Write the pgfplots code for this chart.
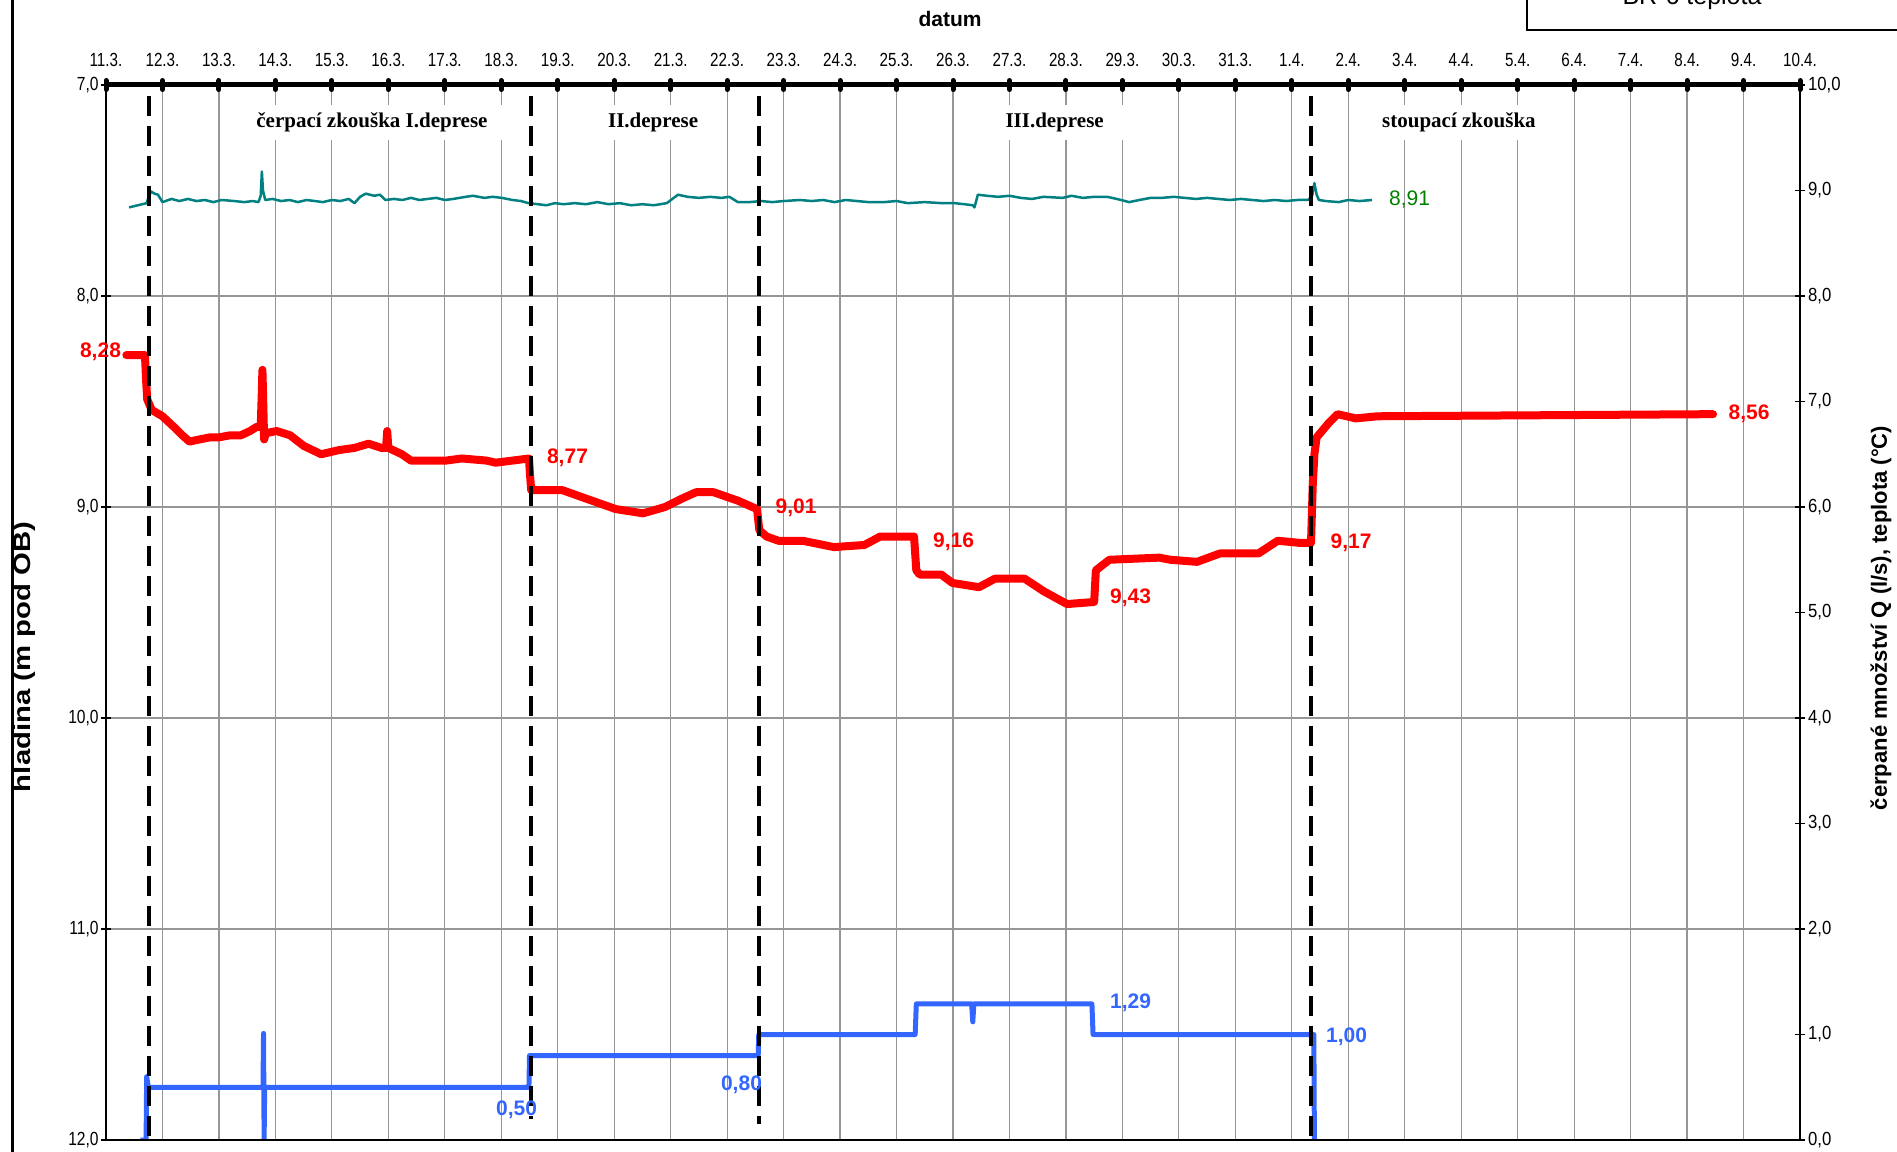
\documentclass[border=0pt]{standalone}
\usepackage{fontspec}
\setmainfont{Liberation Sans}
\newfontfamily\tnr{Liberation Serif}
\usepackage{pgfplots}
\pgfplotsset{compat=1.18}
\definecolor{qblue}{RGB}{51,102,255}
\definecolor{tteal}{RGB}{0,128,128}
\definecolor{tgreen}{RGB}{0,128,0}
\definecolor{gridgray}{RGB}{150,150,150}
\pgfplotsset{/pgf/number format/.cd, use comma, fixed, fixed zerofill, precision=1, assume math mode=true}
\newcommand{\fs}[1]{\fontsize{#1}{#1}\selectfont}
\begin{document}
\begin{tikzpicture}
\useasboundingbox (0pt,0pt) rectangle (1897pt,1151pt);
\begin{axis}[
  at={(106pt,11pt)}, anchor=south west,
  scale only axis, width=1694pt, height=1055pt,
  xmin=0, xmax=30, ymin=7, ymax=12, y dir=reverse,
  axis x line=top, axis y line=left,
  x axis line style={line width=5pt,-},
  y axis line style={line width=1.5pt,-},
  xtick={0,1,...,30},
  xticklabels={11.3.,12.3.,13.3.,14.3.,15.3.,16.3.,17.3.,18.3.,19.3.,20.3.,21.3.,22.3.,23.3.,24.3.,25.3.,26.3.,27.3.,28.3.,29.3.,30.3.,31.3.,1.4.,2.4.,3.4.,4.4.,5.4.,6.4.,7.4.,8.4.,9.4.,10.4.},
  ytick={7,8,9,10,11,12},
  tick align=center, major tick length=9pt,
  xtick style={line width=5pt, line cap=round, black},
  ytick style={line width=1.2pt, black},
  xmajorgrids, ymajorgrids,
  major x grid style={gridgray, line width=1.2pt},
  major y grid style={gridgray, line width=1.5pt},
  xticklabel style={font=\fs{19}, xscale=0.8, yshift=10pt},
  yticklabel style={font=\fs{19}, xscale=0.82},
]
\addplot[red, line width=8pt, line join=round, line cap=round] coordinates {
(0.36,8.28) (0.69,8.28) (0.71,8.40) (0.73,8.49) (0.81,8.54) (1.0,8.57) (1.20,8.62) (1.35,8.66) (1.48,8.69) (1.65,8.68) (1.84,8.67) (2.0,8.67) (2.2,8.66) (2.39,8.66) (2.55,8.64) (2.67,8.62) (2.74,8.62) (2.76,8.45) (2.77,8.35) (2.78,8.45) (2.80,8.68) (2.83,8.65) (3.02,8.64) (3.26,8.66) (3.5,8.71) (3.81,8.75) (4.13,8.73) (4.4,8.72) (4.65,8.70) (4.88,8.72) (4.96,8.72) (4.98,8.64) (5.0,8.72) (5.24,8.75) (5.40,8.78) (6.02,8.78) (6.3,8.77) (6.74,8.78) (6.90,8.79) (7.2,8.78) (7.49,8.77) (7.51,8.85) (7.53,8.92) (8.08,8.92) (8.5,8.96) (9.03,9.01) (9.51,9.03) (9.90,9.0) (10.2,8.96) (10.45,8.93) (10.76,8.93) (11.19,8.97) (11.53,9.01) (11.57,9.11) (11.7,9.14) (11.91,9.16) (12.34,9.16) (12.89,9.19) (13.43,9.18) (13.71,9.14) (14.31,9.14) (14.35,9.30) (14.41,9.32) (14.79,9.32) (14.99,9.36) (15.46,9.38) (15.74,9.34) (16.27,9.34) (16.61,9.40) (17.02,9.46) (17.50,9.45) (17.53,9.30) (17.77,9.25) (18.65,9.24) (18.85,9.25) (19.32,9.26) (19.73,9.22) (20.41,9.22) (20.75,9.16) (21.14,9.17) (21.34,9.17) (21.37,8.90) (21.40,8.75) (21.44,8.67) (21.66,8.60) (21.81,8.56) (22.13,8.58) (22.52,8.57) (28.46,8.56)
};
\node[fill=white, inner sep=0pt, minimum width=280pt, minimum height=35pt, font=\tnr\bfseries\fs{21}] at (axis cs:4.71,7.176) {čerpací zkouška I.deprese};
\node[fill=white, inner sep=0pt, minimum width=120pt, minimum height=35pt, font=\tnr\bfseries\fs{21}] at (axis cs:9.69,7.176) {II.deprese};
\node[fill=white, inner sep=0pt, minimum width=160pt, minimum height=35pt, font=\tnr\bfseries\fs{21}] at (axis cs:16.8,7.176) {III.deprese};
\node[fill=white, inner sep=0pt, minimum width=180pt, minimum height=35pt, font=\tnr\bfseries\fs{21}] at (axis cs:23.96,7.176) {stoupací zkouška};
\end{axis}
\begin{axis}[
  at={(106pt,11pt)}, anchor=south west,
  scale only axis, width=1694pt, height=1055pt,
  xmin=0, xmax=30, ymin=0, ymax=10,
  axis x line=none, axis y line=right,
  y axis line style={line width=1.5pt,-},
  ytick={0,1,...,10},
  tick align=center, major tick length=10pt,
  ytick style={line width=1.2pt, black},
  yticklabel style={font=\fs{19}, xscale=0.88},
]
\addplot[tteal, line width=2.5pt, line join=round] coordinates {
(0.41,8.84) (0.72,8.88) (0.76,8.95) (0.80,8.99) (0.86,8.97) (0.92,8.96) (1.0,8.89) (1.16,8.92) (1.3,8.90) (1.45,8.92) (1.6,8.90) (1.75,8.91) (1.9,8.89) (2.05,8.91) (2.27,8.90) (2.45,8.89) (2.6,8.90) (2.70,8.89) (2.74,8.95) (2.76,9.18) (2.78,9.0) (2.82,8.91) (2.95,8.92) (3.1,8.90) (3.25,8.91) (3.4,8.89) (3.55,8.91) (3.7,8.90) (3.84,8.89) (4.0,8.91) (4.15,8.90) (4.30,8.92) (4.40,8.88) (4.50,8.94) (4.60,8.97) (4.75,8.95) (4.85,8.96) (4.95,8.91) (5.1,8.92) (5.25,8.91) (5.4,8.93) (5.55,8.91) (5.7,8.92) (5.85,8.93) (6.0,8.91) (6.15,8.92) (6.37,8.94) (6.5,8.95) (6.7,8.93) (6.85,8.94) (7.01,8.93) (7.2,8.91) (7.35,8.90) (7.48,8.88) (7.65,8.87) (7.80,8.86) (7.95,8.88) (8.1,8.87) (8.3,8.88) (8.5,8.87) (8.7,8.89) (8.9,8.87) (9.1,8.88) (9.3,8.86) (9.5,8.87) (9.7,8.86) (9.93,8.88) (10.13,8.96) (10.3,8.94) (10.5,8.93) (10.7,8.94) (10.9,8.93) (11.04,8.94) (11.19,8.89) (11.4,8.89) (11.6,8.90) (11.8,8.89) (12.0,8.90) (12.29,8.91) (12.5,8.90) (12.7,8.91) (12.9,8.89) (13.1,8.91) (13.3,8.90) (13.5,8.89) (13.78,8.89) (14.0,8.90) (14.2,8.88) (14.5,8.89) (14.8,8.88) (15.03,8.88) (15.2,8.87) (15.35,8.86) (15.38,8.84) (15.44,8.96) (15.6,8.95) (15.8,8.94) (16.0,8.95) (16.2,8.93) (16.4,8.92) (16.6,8.94) (16.94,8.93) (17.1,8.95) (17.3,8.93) (17.5,8.94) (17.73,8.94) (17.9,8.92) (18.12,8.89) (18.3,8.91) (18.5,8.93) (18.7,8.93) (18.91,8.94) (19.1,8.93) (19.3,8.92) (19.5,8.93) (19.7,8.92) (19.9,8.91) (20.1,8.92) (20.3,8.91) (20.5,8.90) (20.7,8.91) (20.9,8.90) (21.1,8.91) (21.29,8.91) (21.36,8.95) (21.40,9.07) (21.44,8.96) (21.48,8.91) (21.6,8.90) (21.83,8.89) (22.0,8.91) (22.2,8.90) (22.42,8.91)
};
\addplot[qblue, line width=5pt, line join=round] coordinates {
(0.61,0) (0.71,0) (0.72,0.60) (0.75,0.50) (2.78,0.50) (2.79,1.01) (2.80,0) (2.81,0.50) (7.49,0.50) (7.50,0.80) (11.55,0.80) (11.56,1.0) (14.33,1.0) (14.35,1.29) (15.33,1.29) (15.35,1.12) (15.37,1.29) (17.46,1.29) (17.48,1.0) (21.39,1.0) (21.40,0)
};
\addplot[black, line width=4pt, dash pattern=on 20pt off 10pt] coordinates {(0.76,9.9) (0.76,0)};
\addplot[black, line width=4pt, dash pattern=on 20pt off 10pt] coordinates {(7.52,9.9) (7.52,0.2)};
\addplot[black, line width=4pt, dash pattern=on 20pt off 10pt] coordinates {(11.57,9.9) (11.57,0.15)};
\addplot[black, line width=4pt, dash pattern=on 20pt off 10pt] coordinates {(21.34,9.9) (21.34,0)};
\end{axis}
% bottom spine and frame
\draw[line width=1.5pt] (106pt,11pt) -- (1800pt,11pt);
\draw[line width=3pt] (12pt,-5pt) -- (12pt,1160pt);
\draw[line width=2.5pt] (1527pt,1160pt) -- (1527pt,1121pt) -- (1910pt,1121pt);
\node[anchor=base, font=\fs{25}] at (1692pt,1146pt) {BR-6 teplota};
% axis titles
\node[font=\bfseries\fs{21}] at (950pt,1132pt) {datum};
\node[font=\bfseries\fs{24}, rotate=90, xscale=1.22] at (24pt,494pt) {hladina (m pod OB)};
\node[font=\bfseries\fs{22}, rotate=90] at (1881pt,533pt) {čerpané množství Q (l/s), teplota (°C)};
% value labels
\begin{scope}[every node/.style={font=\bfseries\fs{21}, inner sep=0pt}]
\node[text=red] at (100.5pt,799pt) {8,28};
\node[text=red] at (567.5pt,693pt) {8,77};
\node[text=red] at (796pt,643pt) {9,01};
\node[text=red] at (953.5pt,609.3pt) {9,16};
\node[text=red] at (1130.5pt,553pt) {9,43};
\node[text=red] at (1351pt,608pt) {9,17};
\node[text=red] at (1749pt,737pt) {8,56};
\node[text=qblue] at (516.6pt,41pt) {0,50};
\node[text=qblue] at (741.5pt,66pt) {0,80};
\node[text=qblue] at (1130.5pt,148pt) {1,29};
\node[text=qblue] at (1346.5pt,114pt) {1,00};
\node[text=tgreen, font=\fs{21}] at (1409.5pt,951pt) {8,91};
\end{scope}
\end{tikzpicture}
\end{document}
